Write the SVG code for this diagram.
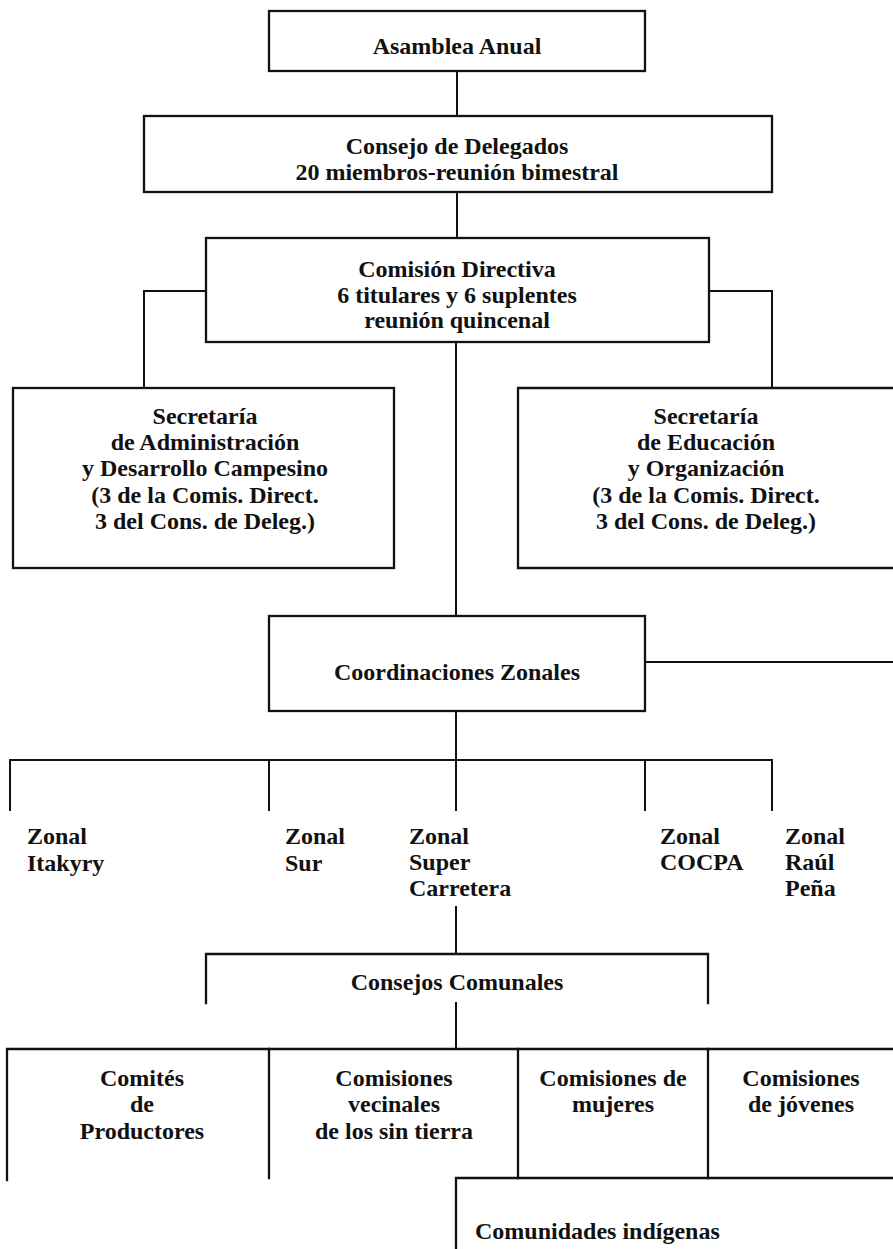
<svg xmlns="http://www.w3.org/2000/svg" width="893" height="1249" viewBox="0 0 893 1249">
<style>
.b{fill:none;stroke:#111;stroke-width:2.3;stroke-linecap:square}
.c{fill:none;stroke:#111;stroke-width:2;stroke-linecap:square}
text{font-family:"Liberation Serif","Times New Roman",serif;font-weight:bold;font-size:24px;fill:#111}
.m{text-anchor:middle}
</style>
<rect x="0" y="0" width="893" height="1249" fill="#fff"/>
<g id="connectors">
<path class="c" d="M457,71V116"/>
<path class="c" d="M457,192V238"/>
<path class="c" d="M206,291H144V388"/>
<path class="c" d="M709,291H772V388"/>
<path class="c" d="M456,342V616"/>
<path class="c" d="M645,662H893"/>
<path class="c" d="M456,711V760"/>
<path class="c" d="M10,810V760H772V810M269,760V810M456,760V810M645,760V810"/>
<path class="c" d="M456,907V954"/>
<path class="c" d="M456,1003V1049"/>
</g>
<g id="asamblea">
<rect class="b" x="269" y="11" width="376" height="60"/>
<text class="m" x="457" y="54">Asamblea Anual</text>
</g>
<g id="consejo-delegados">
<rect class="b" x="144" y="116" width="628" height="76"/>
<text class="m" x="457" y="154">Consejo de Delegados</text>
<text class="m" x="457" y="180">20 miembros-reunión bimestral</text>
</g>
<g id="comision-directiva">
<rect class="b" x="206" y="238" width="503" height="104"/>
<text class="m" x="457" y="277">Comisión Directiva</text>
<text class="m" x="457" y="303">6 titulares y 6 suplentes</text>
<text class="m" x="457" y="328">reunión quincenal</text>
</g>
<g id="sec-administracion">
<rect class="b" x="13" y="388" width="381" height="180"/>
<text class="m" x="205" y="424">Secretaría</text>
<text class="m" x="205" y="450">de Administración</text>
<text class="m" x="205" y="476">y Desarrollo Campesino</text>
<text class="m" x="205" y="503">(3 de la Comis. Direct.</text>
<text class="m" x="205" y="529">3 del Cons. de Deleg.)</text>
</g>
<g id="sec-educacion">
<path class="b" d="M900,388H518V568H900"/>
<text class="m" x="706" y="424">Secretaría</text>
<text class="m" x="706" y="450">de Educación</text>
<text class="m" x="706" y="476">y Organización</text>
<text class="m" x="706" y="503">(3 de la Comis. Direct.</text>
<text class="m" x="706" y="529">3 del Cons. de Deleg.)</text>
</g>
<g id="coordinaciones">
<rect class="b" x="269" y="616" width="376" height="95"/>
<text class="m" x="457" y="680">Coordinaciones Zonales</text>
</g>
<g id="zonal-itakyry">
<text x="27" y="844">Zonal</text>
<text x="27" y="871">Itakyry</text>
</g>
<g id="zonal-sur">
<text x="285" y="844">Zonal</text>
<text x="285" y="871">Sur</text>
</g>
<g id="zonal-super-carretera">
<text x="409" y="844">Zonal</text>
<text x="409" y="870">Super</text>
<text x="409" y="896">Carretera</text>
</g>
<g id="zonal-cocpa">
<text x="660" y="844">Zonal</text>
<text x="660" y="870">COCPA</text>
</g>
<g id="zonal-raul-pena">
<text x="785" y="844">Zonal</text>
<text x="785" y="870">Raúl</text>
<text x="785" y="896">Peña</text>
</g>
<g id="consejos-comunales">
<path class="b" d="M206,1003V954H708V1003"/>
<text class="m" x="457" y="990">Consejos Comunales</text>
</g>
<g id="comites-productores">
<path class="b" d="M7,1180V1049H269V1178"/>
<text class="m" x="142" y="1086">Comités</text>
<text class="m" x="142" y="1112">de</text>
<text class="m" x="142" y="1139">Productores</text>
</g>
<g id="comisiones-vecinales">
<path class="b" d="M269,1049H518V1178"/>
<text class="m" x="394" y="1086">Comisiones</text>
<text class="m" x="394" y="1112">vecinales</text>
<text class="m" x="394" y="1139">de los sin tierra</text>
</g>
<g id="comisiones-mujeres">
<path class="b" d="M518,1049H708V1178"/>
<text class="m" x="613" y="1086">Comisiones de</text>
<text class="m" x="613" y="1112">mujeres</text>
</g>
<g id="comisiones-jovenes">
<path class="b" d="M708,1049H900"/>
<text class="m" x="801" y="1086">Comisiones</text>
<text class="m" x="801" y="1112">de jóvenes</text>
</g>
<g id="comunidades-indigenas">
<path class="b" d="M456,1260V1178H900"/>
<text x="475" y="1239">Comunidades indígenas</text>
</g>
</svg>
